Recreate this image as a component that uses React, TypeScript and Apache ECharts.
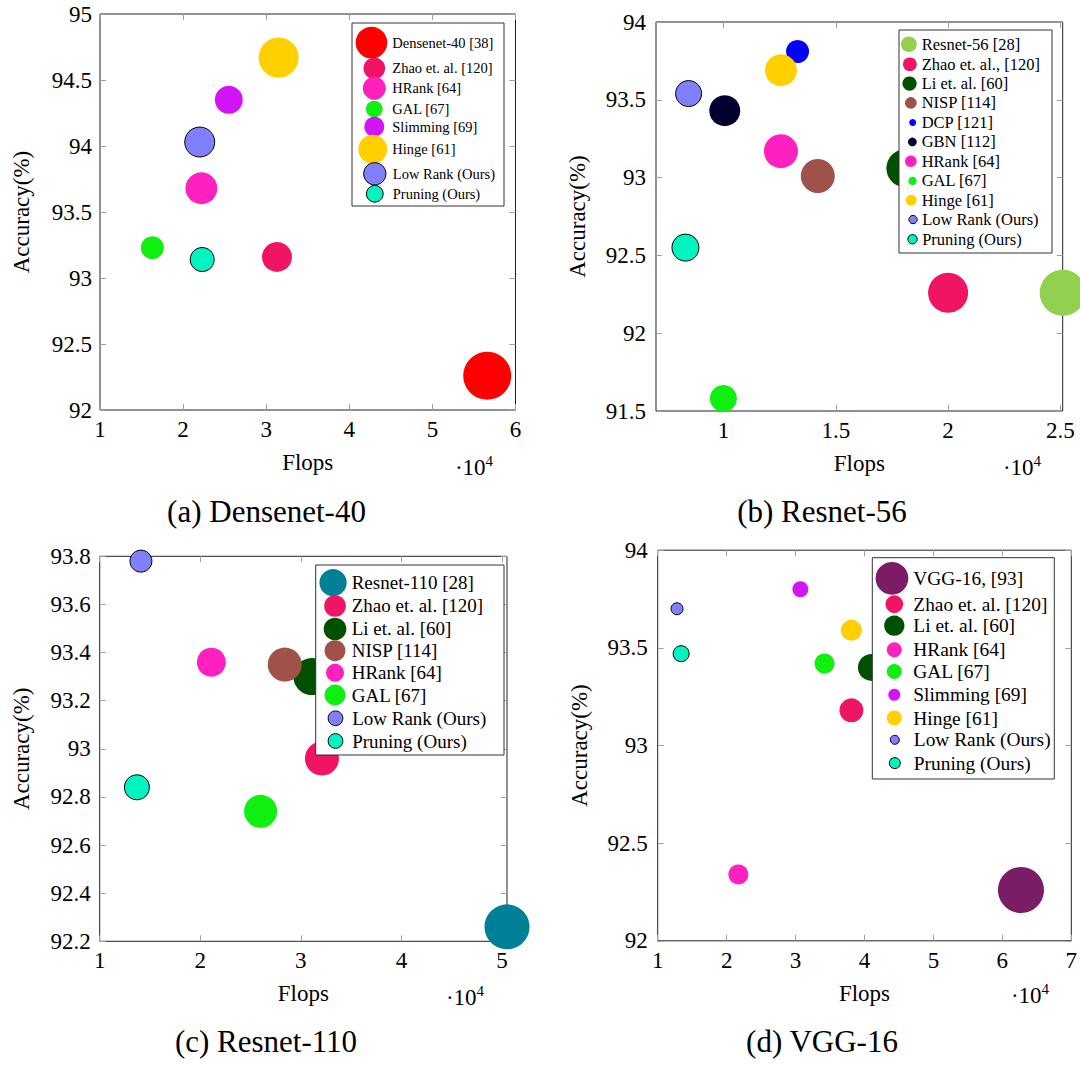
import React, { useEffect, useRef } from "react";
import * as echarts from "echarts";

const FONT = "'Liberation Serif', 'Times New Roman', Times, serif";

// ---------------- Data (FLOPs in units of 10^4, accuracy in %) ----------------
const A_METHODS = ["Densenet-40 [38]", "Zhao et. al. [120]", "HRank [64]", "GAL [67]", "Slimming [69]", "Hinge [61]", "Low Rank (Ours)", "Pruning (Ours)"];
const A_FLOPS = [5.66, 3.13, 2.22, 1.63, 2.55, 3.15, 2.2, 2.23];
const A_ACC = [92.26, 93.16, 93.68, 93.23, 94.35, 94.67, 94.03, 93.14];
const A_XTICKS = [1, 2, 3, 4, 5, 6];
const A_YTICKS = [92, 92.5, 93, 93.5, 94, 94.5, 95];

const B_METHODS = ["Resnet-56 [28]", "Zhao et. al., [120]", "Li et. al. [60]", "NISP [114]", "DCP [121]", "GBN [112]", "HRank [64]", "GAL [67]", "Hinge [61]", "Low Rank (Ours)", "Pruning (Ours)"];
const B_FLOPS = [2.51, 2.0, 1.81, 1.42, 1.33, 1.006, 1.256, 1.0, 1.256, 0.845, 0.831];
const B_ACC = [92.26, 92.26, 93.06, 93.01, 93.81, 93.43, 93.17, 91.58, 93.69, 93.54, 92.55];
const B_XTICKS = [1, 1.5, 2, 2.5];
const B_YTICKS = [91.5, 92, 92.5, 93, 93.5, 94];

const C_METHODS = ["Resnet-110 [28]", "Zhao et. al. [120]", "Li et. al. [60]", "NISP [114]", "HRank [64]", "GAL [67]", "Low Rank (Ours)", "Pruning (Ours)"];
const C_FLOPS = [5.05, 3.21, 3.11, 2.84, 2.11, 2.6, 1.41, 1.37];
const C_ACC = [92.26, 92.96, 93.3, 93.35, 93.36, 92.74, 93.78, 92.84];
const C_XTICKS = [1, 2, 3, 4, 5];
const C_YTICKS = [92.2, 92.4, 92.6, 92.8, 93, 93.2, 93.4, 93.6, 93.8];

const D_METHODS = ["VGG-16, [93]", "Zhao et. al. [120]", "Li et. al. [60]", "HRank [64]", "GAL [67]", "Slimming [69]", "Hinge [61]", "Low Rank (Ours)", "Pruning (Ours)"];
const D_FLOPS = [6.27, 3.81, 4.1, 2.17, 3.42, 3.07, 3.81, 1.28, 1.34];
const D_ACC = [92.26, 93.18, 93.4, 92.34, 93.42, 93.8, 93.59, 93.7, 93.47];
const D_XTICKS = [1, 2, 3, 4, 5, 6, 7];
const D_YTICKS = [92, 92.5, 93, 93.5, 94];

const CAPTIONS = ["(a) Densenet-40", "(b) Resnet-56", "(c) Resnet-110", "(d) VGG-16"];
const X_NAME = "Flops";
const Y_NAME = "Accuracy(%)";

// ---------------- Styles ----------------
const COLOR: Record<string, string> = {
  "Densenet-40 [38]": "#ff0000",
  "Resnet-56 [28]": "#92d050",
  "Resnet-110 [28]": "#008096",
  "VGG-16, [93]": "#7a1c66",
  "Zhao et. al. [120]": "#f01464",
  "Zhao et. al., [120]": "#f01464",
  "Li et. al. [60]": "#005000",
  "NISP [114]": "#a0524a",
  "DCP [121]": "#0000ff",
  "GBN [112]": "#00002e",
  "HRank [64]": "#ff20c0",
  "GAL [67]": "#10f010",
  "Slimming [69]": "#d414f8",
  "Hinge [61]": "#ffd000",
  "Low Rank (Ours)": "#8080ff",
  "Pruning (Ours)": "#00f5c0",
};
const BORDERED = ["Low Rank (Ours)", "Pruning (Ours)"];

const A_MARK = [48, 30, 32, 23, 28, 40, 30, 24];
const B_MARK = [46, 40, 38, 34, 23, 31, 34, 27, 32, 26, 27];
const C_MARK = [45, 34, 37, 34, 29, 33, 22, 25];
const D_MARK = [46, 24, 27, 20, 20, 16, 21, 12, 16];

const A_KEY = [31.7, 21.7, 23, 16.7, 20, 29, 22.3, 16.7];
const A_KEY_Y = [42.7, 68.3, 88.3, 109, 126.7, 149.3, 173.3, 193.3];
const B_KEY = [15.7, 13.7, 14.3, 11.7, 7, 8.7, 11.7, 8.3, 11, 8.3, 9.3];
const B_KEY_Y = [44, 64, 83.3, 102.7, 122.3, 141.7, 161, 180.7, 200, 219.3, 239];
const C_KEY = [27.3, 21.7, 22.7, 21, 18, 21, 14.7, 14.7];
const C_KEY_Y = [582.7, 606, 629, 650.7, 672.7, 695, 718.3, 741];
const D_KEY = [32.7, 17.7, 20.3, 15, 15, 12, 15, 9, 11];
const D_KEY_Y = [578.3, 604.3, 625.7, 650, 671.7, 695, 718.3, 740, 763.3];

const PANELS = [
  {
    methods: A_METHODS, flops: A_FLOPS, acc: A_ACC, xt: A_XTICKS, yt: A_YTICKS, mark: A_MARK, key: A_KEY, keyY: A_KEY_Y,
    grid: { left: 100, top: 14, width: 415.5, height: 396 }, xr: [1, 6], yr: [92, 95],
    box: [352, 23, 152, 183], textX: 392.3, iconX: 374.3, lf: 14.5, ym: 8,
    cap: [266.5, 511], times: [474, 466],
  },
  {
    methods: B_METHODS, flops: B_FLOPS, acc: B_ACC, xt: B_XTICKS, yt: B_YTICKS, mark: B_MARK, key: B_KEY, keyY: B_KEY_Y,
    grid: { left: 656, top: 22, width: 406.7, height: 389 }, xr: [0.7, 2.51], yr: [91.5, 94],
    box: [899, 30, 153, 223], textX: 921.7, iconX: 912.7, lf: 16.5, ym: 10,
    cap: [822, 511], times: [1022, 466],
  },
  {
    methods: C_METHODS, flops: C_FLOPS, acc: C_ACC, xt: C_XTICKS, yt: C_YTICKS, mark: C_MARK, key: C_KEY, keyY: C_KEY_Y,
    grid: { left: 99.7, top: 556.3, width: 407.3, height: 385 }, xr: [1, 5.05], yr: [92.2, 93.8],
    box: [315.7, 565, 188.3, 190], textX: 351.7, iconX: 335, lf: 19, ym: 9,
    cap: [266, 1041], times: [465, 996],
  },
  {
    methods: D_METHODS, flops: D_FLOPS, acc: D_ACC, xt: D_XTICKS, yt: D_YTICKS, mark: D_MARK, key: D_KEY, keyY: D_KEY_Y,
    grid: { left: 657.7, top: 550.2, width: 413.6, height: 390.6 }, xr: [1, 7], yr: [92, 94],
    box: [872.3, 557.7, 182, 221.3], textX: 913.3, iconX: 894.3, lf: 19.4, ym: 10,
    cap: [822, 1041], times: [1030, 994],
  },
];

const fmt = (v: number) => String(Math.round(v * 10) / 10);

function buildOption() {
  const grid: any[] = [];
  const xAxis: any[] = [];
  const yAxis: any[] = [];
  const series: any[] = [];
  const legend: any[] = [];
  const graphic: any[] = [];

  const tick = (vals: number[]) => ({
    show: true, inside: true, length: 6, customValues: vals,
    lineStyle: { color: "#a0a0a0", width: 1 },
  });
  const labelStyle = { fontFamily: FONT, fontSize: 23, color: "#000" };

  PANELS.forEach((p, pi) => {
    grid.push({
      ...p.grid, show: true, borderColor: "#222", borderWidth: 1,
      backgroundColor: "transparent", containLabel: false, outerBoundsMode: "none",
    });
    xAxis.push({
      type: "value", gridIndex: pi, min: p.xr[0], max: p.xr[1], position: "bottom",
      axisLine: { show: false }, axisTick: tick(p.xt), splitLine: { show: false },
      axisLabel: { ...labelStyle, customValues: p.xt, formatter: fmt, margin: 8 },
      name: X_NAME, nameLocation: "middle", nameGap: 41,
      nameTextStyle: { fontFamily: FONT, fontSize: 23, color: "#000" },
    });
    xAxis.push({
      type: "value", gridIndex: pi, min: p.xr[0], max: p.xr[1], position: "top",
      axisLine: { show: false }, axisTick: tick(p.xt), splitLine: { show: false },
      axisLabel: { show: false },
    });
    yAxis.push({
      type: "value", gridIndex: pi, min: p.yr[0], max: p.yr[1], position: "left",
      axisLine: { show: false }, axisTick: tick(p.yt), splitLine: { show: false },
      axisLabel: { ...labelStyle, customValues: p.yt, formatter: fmt, margin: p.ym },
      name: Y_NAME, nameLocation: "middle", nameGap: 67, nameRotate: 90,
      nameTextStyle: { fontFamily: FONT, fontSize: 23, color: "#000" },
    });
    yAxis.push({
      type: "value", gridIndex: pi, min: p.yr[0], max: p.yr[1], position: "right",
      axisLine: { show: false }, axisTick: tick(p.yt), splitLine: { show: false },
      axisLabel: { show: false },
    });

    p.methods.forEach((m, i) => {
      const bordered = BORDERED.includes(m);
      series.push({
        type: "scatter", name: m, xAxisIndex: pi * 2, yAxisIndex: pi * 2,
        data: [[p.flops[i], p.acc[i]]], symbol: "circle", symbolSize: p.mark[i],
        clip: false, z: 2,
        itemStyle: { color: COLOR[m], opacity: 1, borderColor: "#000", borderWidth: bordered ? 1 : 0 },
        emphasis: { disabled: true },
      });
      const d = p.key[i];
      const W = Math.max(d, 2 * (p.textX - p.iconX - 5));
      legend.push({
        data: [m], orient: "horizontal", padding: 0, selectedMode: false,
        left: p.textX - 5 - (W + d) / 2, top: p.keyY[i] - Math.max(d, p.lf) / 2,
        itemWidth: W, itemHeight: d, icon: "circle", z: 12,
        itemStyle: bordered ? { borderColor: "#000", borderWidth: 1 } : { borderWidth: 0 },
        textStyle: { fontFamily: FONT, fontSize: p.lf, color: "#000" },
      });
    });

    graphic.push({
      type: "rect", z: 10, silent: true,
      shape: { x: p.box[0], y: p.box[1], width: p.box[2], height: p.box[3] },
      style: { fill: "#fff", stroke: "#333", lineWidth: 1 },
    });
    graphic.push({
      type: "text", z: 10, x: p.times[0], y: p.times[1], silent: true,
      style: {
        text: "{b|·10}{s|4}", align: "center", verticalAlign: "middle",
        rich: {
          b: { fontFamily: FONT, fontSize: 23, lineHeight: 26, verticalAlign: "bottom", fill: "#000" },
          s: { fontFamily: FONT, fontSize: 15, lineHeight: 15, verticalAlign: "top", fill: "#000" },
        },
      },
    });
    graphic.push({
      type: "text", z: 10, x: p.cap[0], y: p.cap[1], silent: true,
      style: { text: CAPTIONS[pi], fontFamily: FONT, fontSize: 31, fill: "#000", align: "center", verticalAlign: "middle" },
    });
  });

  return {
    animation: false,
    backgroundColor: "#fff",
    textStyle: { fontFamily: FONT },
    grid, xAxis, yAxis, series, legend, graphic,
    tooltip: { show: false },
  };
}

export default function App() {
  const ref = useRef<HTMLDivElement>(null);
  useEffect(() => {
    if (!ref.current) return;
    const chart = echarts.init(ref.current, null, { renderer: "svg" });
    chart.setOption(buildOption() as any);
    return () => chart.dispose();
  }, []);
  return (
    <div
      ref={ref}
      style={{ position: "absolute", left: 0, top: 0, width: 1080, height: 1065, background: "#fff" }}
    />
  );
}
